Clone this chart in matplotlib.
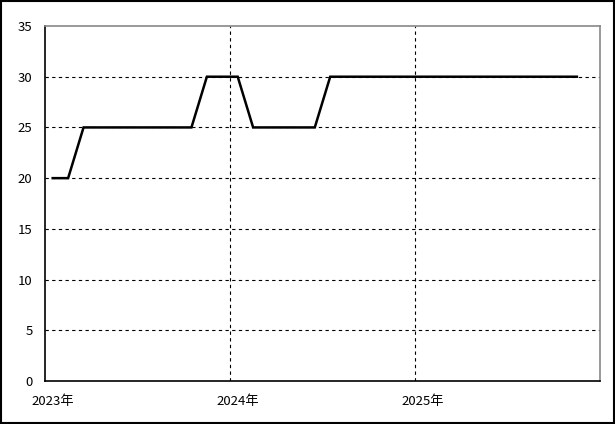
import matplotlib
matplotlib.use("Agg")
import matplotlib.pyplot as plt
from matplotlib.patches import Rectangle

plt.rcParams['font.family'] = ['Noto Sans CJK JP', 'DejaVu Sans']

# monthly values, Jan 2023 .. Nov 2025
months = list(range(35))
values = [20, 20, 25, 25, 25, 25, 25, 25, 25, 25,
          30, 30, 30, 25, 25, 25, 25, 25,
          30, 30, 30, 30, 30, 30, 30, 30, 30, 30, 30, 30, 30, 30, 30, 30, 30]
year_labels = ["2023年", "2024年", "2025年"]
year_starts = [0, 12, 24]
yticks = [0, 5, 10, 15, 20, 25, 30, 35]

fig = plt.figure(figsize=(6.15, 4.24), dpi=100)
ax = fig.add_axes([45/615, 43/424, 555/615, 355/424])

x = [m + 0.5 for m in months]
ax.plot(x, values, color='black', lw=1.8, solid_joinstyle='miter', zorder=3)

ax.set_xlim(0, 36)
ax.set_ylim(0, 35)
ax.set_yticks(yticks)
ax.set_xticks([s + 0.5 for s in year_starts])
ax.set_xticklabels(year_labels)
ax.tick_params(axis='x', length=0, labelsize=9.5, pad=10)
ax.tick_params(axis='y', length=0, labelsize=9.5, pad=9)

# inner grid only (not on the frame)
dash = (0, (3, 3))
ax.hlines(yticks[1:-1], 0, 36, colors='black', lw=0.8, linestyles=dash, zorder=1)
ax.vlines(year_starts[1:], 0, 35, colors='black', lw=0.8, linestyles=dash, zorder=1)

ax.spines['left'].set_color('black')
ax.spines['bottom'].set_color('black')
ax.spines['top'].set_color('#888888')
ax.spines['right'].set_color('#888888')
for s in ax.spines.values():
    s.set_linewidth(1.2)

fig.patches.append(Rectangle((0.001, 0.002), 0.997, 0.996, transform=fig.transFigure,
                             fill=False, edgecolor='black', lw=1.5))

fig.savefig('out.png', dpi=100)
